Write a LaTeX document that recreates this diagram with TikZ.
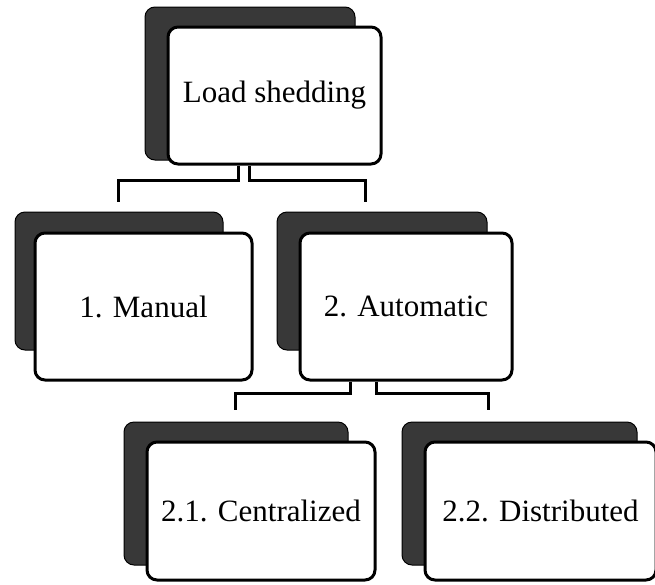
\documentclass[tikz,border=0pt]{standalone}
\usepackage{fontspec}
\setmainfont{Liberation Serif}
\begin{document}
\begin{tikzpicture}[x=1pt,y=-1pt,
  shadowbox/.style={fill=black!78, draw=black, line width=1pt, rounded corners=10pt,
    inner sep=0pt, minimum width=#1},
  frontbox/.style={fill=white, draw=black, line width=3pt, rounded corners=10pt,
    inner sep=0pt, font=\fontsize{31}{36}\selectfont, minimum width=#1},
  link/.style={draw=black, line width=3pt}]
\useasboundingbox (0,0) rectangle (655,584);

% root
\node[shadowbox=210pt, minimum height=153pt] (tops) at (250,83.5) {};
\node[frontbox=213pt, minimum height=137pt] (top) at (274.5,95.5) {Load shedding};

% first level
\node[shadowbox=208pt, minimum height=138pt] (mans) at (119,281) {};
\node[frontbox=217pt, minimum height=147pt] (man) at (143.5,306.5) {1. Manual};
\node[shadowbox=210pt, minimum height=138pt] (auts) at (382,281) {};
\node[frontbox=212pt, minimum height=147pt] (aut) at (406,306.5) {2. Automatic};

% second level
\node[shadowbox=224pt, minimum height=143pt] (cens) at (236,493.5) {};
\node[frontbox=228pt, minimum height=138pt] (cen) at (261,511) {2.1. Centralized};
\node[shadowbox=235pt, minimum height=143pt] (diss) at (519.5,493.5) {};
\node[frontbox=231pt, minimum height=138pt] (dis) at (540.5,511) {2.2. Distributed};

% bracket ends above the child boxes
\coordinate (manin) at (118,202);
\coordinate (autin) at (365,202);
\coordinate (cenin) at (235,410);
\coordinate (disin) at (488,410);

\draw[link] ([xshift=-36.5pt]top.south) -- ++(0,15) -| (manin);
\draw[link] ([xshift=-25.5pt]top.south) -- ++(0,15) -| (autin);
\draw[link] ([xshift=-56pt]aut.south) -- ++(0,12) -| (cenin);
\draw[link] ([xshift=-30pt]aut.south) -- ++(0,12) -| (disin);
\end{tikzpicture}
\end{document}
